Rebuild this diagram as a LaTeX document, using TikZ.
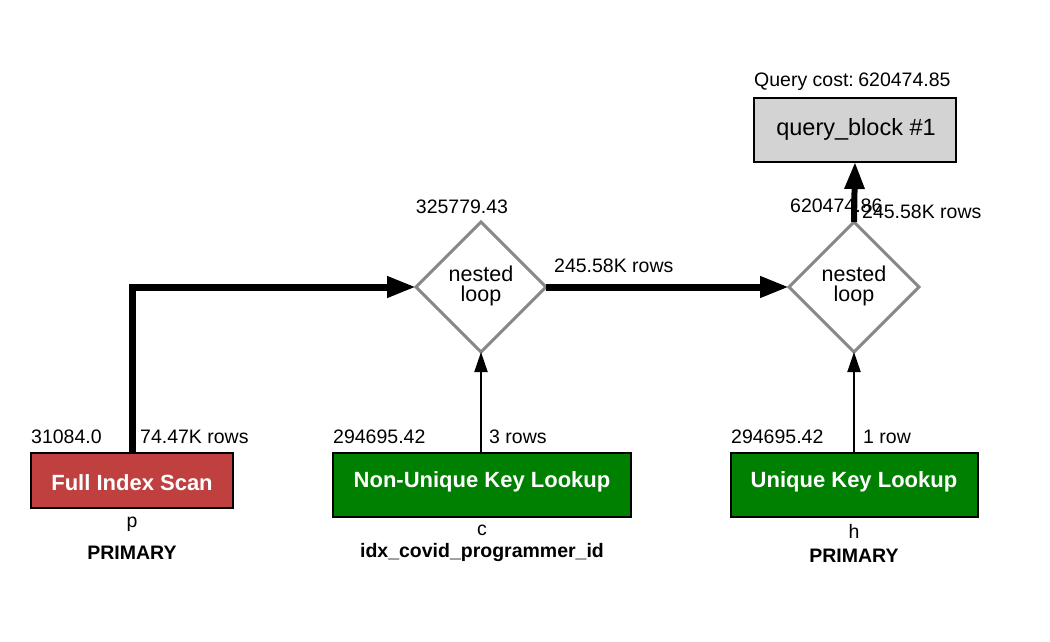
\documentclass[tikz,border=0pt]{standalone}
\usepackage{fontspec}
\setmainfont{Liberation Sans}
\usetikzlibrary{arrows.meta}
\definecolor{scanred}{RGB}{192,64,64}
\definecolor{lookgreen}{RGB}{0,128,0}
\definecolor{qbgray}{RGB}{211,211,211}
\definecolor{diagray}{RGB}{136,136,136}
\tikzset{
  lbl/.style={inner sep=0pt, font=\fontsize{19.5}{22}\selectfont},
  lblb/.style={inner sep=0pt, font=\fontsize{19.5}{22}\selectfont\bfseries},
  boxtxt/.style={inner sep=0pt, text=white, font=\fontsize{22}{25}\selectfont\bfseries},
  looptxt/.style={inner sep=0pt, font=\fontsize{21.5}{24}\selectfont},
  opbox/.style={draw=black, line width=2pt, inner sep=0pt},
  joindia/.style={draw=diagray, line width=3pt, fill=white},
  thickflow/.style={line width=7pt, -{Triangle[length=29pt,width=20pt]}},
  thinflow/.style={line width=2pt, -{Triangle[length=20pt,width=13pt]}},
}
\begin{document}
\begin{tikzpicture}[x=1pt,y=-1pt]
\useasboundingbox (0,0) rectangle (1050,642);
% query block
\node[lbl, anchor=base west] (qcost) at (754,86) {Query cost:\kern-1pt\ 620474.85};
\draw[opbox, fill=qbgray] (754,98) rectangle (956,162);
\coordinate (qbs) at (855,162);
\node[inner sep=0pt, font=\fontsize{23.5}{26}\selectfont, anchor=base] (qb) at (856,135) {query\_block \#1};
% diamonds
\draw[joindia] (481,222) -- (546,287) -- (481,352) -- (416,287) -- cycle;
\coordinate (d1n) at (481,222); \coordinate (d1e) at (546,287);
\coordinate (d1s) at (481,352); \coordinate (d1w) at (416,287);
\node[looptxt, anchor=base] (d1a) at (481,281) {nested};
\node[looptxt, anchor=base] (d1b) at (481,301) {loop};
\draw[joindia] (854,222) -- (919,287) -- (854,352) -- (789,287) -- cycle;
\coordinate (d2n) at (854,222); \coordinate (d2e) at (919,287);
\coordinate (d2s) at (854,352); \coordinate (d2w) at (789,287);
\node[looptxt, anchor=base] (d2a) at (854,281) {nested};
\node[looptxt, anchor=base] (d2b) at (854,301) {loop};
\node[lbl, anchor=base] (c1) at (462,213) {325779.43};
\node[lbl, anchor=base west] (c2) at (790,212) {620474.86};
\node[lbl, anchor=base west] (r3) at (554,272) {245.58K rows};
% boxes
\draw[opbox, fill=scanred] (31,453) rectangle (233,508);
\node[boxtxt, anchor=base] (fis) at (132,490) {Full Index Scan};
\coordinate (fisn) at (132,453);
\draw[opbox, fill=lookgreen] (333,453) rectangle (631,517);
\node[boxtxt, anchor=base] (nukl) at (482,487) {Non-Unique Key Lookup};
\coordinate (nukln) at (481,453);
\draw[opbox, fill=lookgreen] (731,453) rectangle (978,517);
\node[boxtxt, anchor=base] (ukl) at (854,487) {Unique Key Lookup};
\coordinate (ukln) at (854,453);
% box labels
\node[lbl, anchor=base west] (fc) at (31,443) {31084.0};
\node[lbl, anchor=base west] (fr) at (140,443) {74.47K rows};
\node[lbl, anchor=base] (ft) at (132,527) {p};
\node[lblb, anchor=base] (fk) at (132,559) {PRIMARY};
\node[lbl, anchor=base west] (nc) at (333,443) {294695.42};
\node[lbl, anchor=base west] (nr) at (489,443) {3 rows};
\node[lbl, anchor=base] (nt) at (482,535) {c};
\node[lblb, anchor=base] (nk) at (482,557) {idx\_covid\_programmer\_id};
\node[lbl, anchor=base west] (uc) at (731,443) {294695.42};
\node[lbl, anchor=base west] (ur) at (863,443) {1 row};
\node[lbl, anchor=base] (ut) at (854,538) {h};
\node[lblb, anchor=base] (uk) at (854,562) {PRIMARY};
% connectors
\draw[thickflow] (fisn) -- (132,287) -- (d1w);
\draw[thickflow] (d1e) -- (d2w);
\draw[line width=6pt, -{Triangle[length=27pt,width=19pt]}] (d2n) -- (qbs);
\node[lbl, anchor=base west] (r4) at (862,218) {245.58K rows};
\draw[thinflow] (nukln) -- (d1s);
\draw[thinflow] (ukln) -- (d2s);
\end{tikzpicture}
\end{document}
